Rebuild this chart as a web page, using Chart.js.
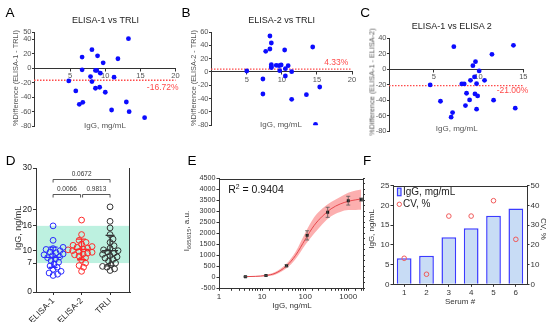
<!DOCTYPE html>
<html>
<head>
<meta charset="utf-8">
<title>IgG assay comparison</title>
<script src="https://cdn.jsdelivr.net/npm/chart.js@4.4.1/dist/chart.umd.min.js"></script>
<style>
  html, body { margin: 0; padding: 0; background: #fff; }
  #page { position: relative; width: 550px; height: 327px; overflow: hidden;
          font-family: "Liberation Sans", Arial, sans-serif; }
  #page canvas { position: absolute; left: 0; top: 0; }
  .txt { position: absolute; white-space: nowrap; line-height: 1; color: #333; z-index: 5; }
  .txt sub { font-size: 70%; vertical-align: -0.3em; line-height: 0; }
  .txt sup { font-size: 65%; vertical-align: 0.5em; line-height: 0; }
</style>
</head>
<body>
<div id="page"></div>
<script>
// ---------------------------------------------------------------
// DATA
// ---------------------------------------------------------------
// A: ELISA-1 vs TRLI (IgG mg/mL, % difference)
const aIgG  = [13.3, 8.1, 8.9, 6.7, 11.8, 9.7, 6.7, 8.6, 8.8, 9.3, 7.9, 11.25,
               4.8, 8.1, 9.2, 8.6, 5.8, 10.0, 13.0, 6.8, 6.3, 10.9, 13.4, 15.6];
const aDiff = [40.7, 25.5, 17.1, 15.3, 13.0, 7.4, -2.3, -3.2, -3.2, -6.9, -11.6, -12.5,
               -17.6, -18.5, -26.4, -27.8, -31.5, -33.3, -46.8, -47.2, -50.0, -57.9, -60.2, -68.5];
const aMean = -16.72;
const aYTicks = [50, 40, 20, 0, -20, -40, -60, -80];

// B: ELISA-2 vs TRLI
const bIgG  = [8.3, 8.5, 8.3, 7.7, 10.4, 14.4, 8.5, 8.5, 8.5, 9.2, 9.6, 9.9,
               10.9, 10.5, 9.7, 5.0, 11.4, 10.5, 7.3, 15.4, 7.3, 13.5, 11.4, 14.8];
const bDiff = [54, 43.5, 34.5, 31, 33, 37.5, 11, 8, 6.5, 10, 9.5, 10.5,
               9.5, 5, 2, 1.5, 0.5, -6, -10.5, -22.5, -33, -34, -41, -78.5];
const bMean = 4.33;
const bYTicks = [60, 40, 20, 0, -20, -40, -60, -80];

// C: ELISA-1 vs ELISA-2
const cIgG  = [7.24, 13.9, 11.5, 9.66, 9.37, 10.07, 10.67, 9.1, 9.55, 4.6, 8.13, 8.4,
               9.78, 8.66, 9.6, 9.9, 9.0, 11.68, 5.75, 8.54, 14.1, 9.78, 7.1, 6.94];
const cDiff = [29.2, 30.9, 19.3, 9.9, 4.7, -2.1, -14.2, -14.2, -9.9, -20.2, -18.9, -18.9,
               -18.5, -30.9, -31.8, -34.3, -39.5, -39.9, -41.2, -46.8, -50.2, -51.5, -55.8, -61.8];
const cMean = -21.00;
const cYTicks = [40, 20, 0, -20, -40, -60, -80];

// D: IgG per method (ng/mL)
const dMethods = ["ELISA-1", "ELISA-2", "TRLI"];
const dElisa1 = [16.0, 12.5, 10.8, 10.5, 10.3, 10.0, 9.7, 9.5, 9.2, 9.0, 8.8, 8.5,
                 8.3, 8.0, 7.6, 7.2, 6.8, 6.3, 6.0, 5.5, 5.0, 4.6, 4.3, 4.0];
const dElisa2 = [17.4, 13.9, 12.5, 12.0, 11.6, 11.3, 11.0, 10.8, 10.6, 10.4, 10.2, 10.0,
                 9.8, 9.6, 9.4, 9.2, 9.0, 8.7, 8.3, 7.8, 7.0, 6.4, 6.0, 5.0];
const dTrli   = [20.6, 17.1, 15.5, 13.9, 12.8, 12.0, 11.2, 10.6, 10.2, 10.0, 9.7, 9.4,
                 9.1, 8.8, 8.5, 8.2, 7.9, 7.5, 7.0, 6.6, 6.2, 6.0, 5.6, 5.2];
const dMean = [8.4, 10.3, 10.0];
const dSd   = [2.45, 2.5, 3.7];
const dRange = [7, 16];
const dPValues = ["0.0672", "0.0066", "0.9813"];
const dYTicks = [0, 7, 10, 16, 20, 30];

// E: calibration curve
const eConc   = [4.1, 12.3, 37, 111, 333, 1000, 2000];
const eSignal = [30, 80, 530, 1910, 2960, 3490, 3540];
const eErr    = [20, 25, 50, 210, 230, 200, 70];
const eFitX   = [4, 7, 12, 20, 37, 60, 100, 160, 250, 400, 650, 1000, 1500, 2000];
const eFitY   = [30, 45, 80, 180, 520, 1000, 1720, 2350, 2780, 3120, 3340, 3460, 3530, 3570];
const eBandHi = [45, 65, 110, 240, 630, 1170, 2020, 2720, 3130, 3430, 3660, 3850, 3950, 4000];
const eBandLo = [15, 25, 50, 120, 410, 830, 1470, 1980, 2420, 2780, 2980, 3060, 3070, 3080];
const eR2 = "0.9404";
const eXLabels = [1, 10, 100, 1000];

// F: sera
const fSerum = ["1", "2", "3", "4", "5", "6"];
const fIgG   = [6.6, 7.25, 11.9, 14.2, 17.4, 19.2];
const fCV    = [13.2, 5.1, 34.6, 34.6, 42.4, 22.8];

// ---------------------------------------------------------------
// SETUP
// ---------------------------------------------------------------
const W = 550, H = 327;
const FONT = '"Liberation Sans", Arial, sans-serif';
const page = document.getElementById("page");

Chart.defaults.font.family = FONT;
Chart.defaults.font.size = 8;
Chart.defaults.color = "#444";
Chart.defaults.animation = false;
Chart.defaults.events = [];
Chart.defaults.plugins.legend.display = false;
Chart.defaults.plugins.tooltip.enabled = false;

function newCanvas() {
    const c = document.createElement("canvas");
    c.width = W; c.height = H;
    c.style.width = W + "px"; c.style.height = H + "px";
    page.appendChild(c);
    return c;
}

function addText(html, x, y, size, opts = {}) {
    const d = document.createElement("div");
    d.className = "txt";
    d.innerHTML = html;
    d.style.left = x + "px";
    d.style.top = y + "px";
    d.style.fontSize = size + "px";
    if (opts.color) d.style.color = opts.color;
    d.style.transform = "translate(-50%,-50%)" + (opts.rot ? ` rotate(${opts.rot}deg)` : "");
    page.appendChild(d);
}

// chart area [L, T, R, B] -> layout padding, given axis sizes
function pad(area, wl, wr, hb) {
    const [L, T, R, B] = area;
    return { left: L - wl, top: T, right: W - R - wr, bottom: H - B - hb };
}
const fixW = w => s => { s.width = w; };
const fixH = h => s => { s.height = h; };
const setTicks = vals => s => { s.ticks = vals.map(v => ({ value: v })); };
const tickGrid = len => ({ drawOnChartArea: false, drawTicks: true, tickLength: len, color: "#333" });
const axisBorder = { display: true, color: "#333", width: 1 };
const plain = v => String(v);

function framePlugin(sides) {
    return {
        id: "frame",
        afterDatasetsDraw(chart) {
            const { ctx, chartArea: a } = chart;
            ctx.save();
            ctx.strokeStyle = "#333";
            ctx.lineWidth = 1;
            ctx.beginPath();
            if (sides.includes("top")) { ctx.moveTo(a.left, Math.round(a.top) + 0.5); ctx.lineTo(a.right, Math.round(a.top) + 0.5); }
            if (sides.includes("right")) { ctx.moveTo(Math.round(a.right) - 0.5, a.top); ctx.lineTo(Math.round(a.right) - 0.5, a.bottom); }
            ctx.stroke();
            ctx.restore();
        }
    };
}

// ---------------------------------------------------------------
// A, B, C: difference plots
// ---------------------------------------------------------------
function diffPanel(p) {
    const meanPlugin = {
        id: "meanLine",
        beforeDatasetsDraw(chart) {
            const { ctx, chartArea: a, scales: { y } } = chart;
            const py = y.getPixelForValue(p.mean);
            ctx.save();
            ctx.strokeStyle = "#ff4a4a";
            ctx.lineWidth = 1.3;
            ctx.setLineDash([1.5, 1.5]);
            ctx.beginPath();
            ctx.moveTo(a.left, py);
            ctx.lineTo(a.right, py);
            ctx.stroke();
            ctx.setLineDash([]);
            ctx.fillStyle = "#ff4a4a";
            ctx.font = "8.5px " + FONT;
            ctx.textAlign = "right";
            ctx.textBaseline = "middle";
            ctx.fillText(p.mean.toFixed(2) + "%", a.right + p.dx, py + p.dy);
            ctx.restore();
        }
    };

    new Chart(newCanvas(), {
        type: "scatter",
        data: {
            datasets: [{
                data: p.xs.map((x, i) => ({ x, y: p.ys[i] })),
                backgroundColor: "#0c0cff",
                borderColor: "#0c0cff",
                pointRadius: 2.4,
                pointBorderWidth: 0
            }]
        },
        options: {
            responsive: false,
            devicePixelRatio: 1,
            layout: { padding: pad(p.area, 20, 0, 0) },
            scales: {
                x: {
                    type: "linear",
                    position: { y: 0 },
                    min: p.xMin, max: p.xMax,
                    afterBuildTicks: setTicks(p.xTicks),
                    ticks: { padding: 1, color: "#555", font: { size: 7.5 }, callback: plain },
                    grid: tickGrid(2.5),
                    border: axisBorder
                },
                y: {
                    min: p.yTicks[p.yTicks.length - 1], max: p.yTicks[0],
                    afterFit: fixW(20),
                    afterBuildTicks: setTicks(p.yTicks),
                    ticks: { padding: 0.5, color: "#555", font: { size: 7.5 }, autoSkip: false, callback: plain },
                    grid: tickGrid(2),
                    border: axisBorder
                }
            }
        },
        plugins: [meanPlugin]
    });
}

diffPanel({ xs: aIgG, ys: aDiff, mean: aMean, yTicks: aYTicks, xTicks: [5, 10, 15, 20],
            area: [34, 32, 175.5, 126], xMin: -0.15, xMax: 20, dx: 3, dy: 7 });
diffPanel({ xs: bIgG, ys: bDiff, mean: bMean, yTicks: bYTicks, xTicks: [5, 10, 15, 20],
            area: [211, 32, 352, 125.3], xMin: -0.1, xMax: 20, dx: -3.7, dy: -6 });
diffPanel({ xs: cIgG, ys: cDiff, mean: cMean, yTicks: cYTicks, xTicks: [5, 10, 15],
            area: [389, 38.3, 523.3, 131.3], xMin: 0, xMax: 15, dx: 5, dy: 5 });

// ---------------------------------------------------------------
// D: beeswarm of IgG per method
// ---------------------------------------------------------------
const dColors = ["#2a2aff", "#ff2a2a", "#333333"];

// simple deterministic beeswarm: offsets in category units
function swarm(vals, pxY, pxX, dmin) {
    const order = vals.map((_, i) => i).sort((a, b) => vals[a] - vals[b]);
    const placed = [];
    const off = new Array(vals.length).fill(0);
    order.forEach(i => {
        const py = vals[i] * pxY;
        let chosen = 0;
        for (let k = 0; k < 80; k++) {
            const cand = (k % 2 ? 1 : -1) * Math.ceil(k / 2) * 0.5;
            const hit = placed.some(p => (cand - p.x) ** 2 + (py - p.y) ** 2 < dmin * dmin);
            if (!hit) { chosen = cand; break; }
        }
        placed.push({ x: chosen, y: py });
        off[i] = chosen / pxX;
    });
    return off;
}

const dGroups = [dElisa1, dElisa2, dTrli];
const dDecor = {
    id: "dDecor",
    beforeDraw(chart) {
        const { ctx, chartArea: a, scales: { y } } = chart;
        const y0 = y.getPixelForValue(dRange[0]);
        const y1 = y.getPixelForValue(dRange[1]);
        ctx.save();
        ctx.fillStyle = "#bdf1e0";
        ctx.fillRect(a.left, y1, a.right - a.left, y0 - y1);
        ctx.restore();
    },
    afterDatasetsDraw(chart) {
        const { ctx, scales: { x, y } } = chart;
        ctx.save();
        // mean and SD
        dMean.forEach((m, i) => {
            const cx = x.getPixelForValue(i);
            const pm = y.getPixelForValue(m);
            const ph = y.getPixelForValue(m + dSd[i]);
            const pl = y.getPixelForValue(m - dSd[i]);
            ctx.strokeStyle = dColors[i];
            ctx.lineWidth = 1.3;
            ctx.beginPath();
            ctx.moveTo(cx - 8, pm); ctx.lineTo(cx + 8, pm);
            ctx.moveTo(cx, ph); ctx.lineTo(cx, pl);
            ctx.moveTo(cx - 4.5, ph); ctx.lineTo(cx + 4.5, ph);
            ctx.moveTo(cx - 4.5, pl); ctx.lineTo(cx + 4.5, pl);
            ctx.stroke();
        });
        // significance brackets
        const pairs = [[0, 2, 27.4], [0, 1, 23.7], [1, 2, 23.7]];
        ctx.strokeStyle = "#444";
        ctx.lineWidth = 0.9;
        ctx.fillStyle = "#333";
        ctx.font = "6.5px " + FONT;
        ctx.textAlign = "center";
        ctx.textBaseline = "middle";
        pairs.forEach(([i, j, lvl], k) => {
            const x0 = x.getPixelForValue(i) + (k > 0 && i === 1 ? 1 : 0);
            const x1 = x.getPixelForValue(j) - (k > 0 && j === 1 ? 1 : 0);
            const py = Math.round(y.getPixelForValue(lvl)) + 0.5;
            ctx.beginPath();
            ctx.moveTo(x0, py + 3); ctx.lineTo(x0, py); ctx.lineTo(x1, py); ctx.lineTo(x1, py + 3);
            ctx.stroke();
            ctx.fillText(dPValues[k], (x0 + x1) / 2, py - 5.5);
        });
        ctx.restore();
    }
};

new Chart(newCanvas(), {
    type: "scatter",
    data: {
        datasets: dGroups.map((g, gi) => {
            const off = swarm(g, 4.13, 28.5, 4.4);
            return {
                data: g.map((v, i) => ({ x: gi + off[i], y: v })),
                pointRadius: 2.9,
                borderColor: dColors[gi],
                backgroundColor: "rgba(0,0,0,0)",
                pointBorderWidth: 1
            };
        })
    },
    options: {
        responsive: false,
        devicePixelRatio: 1,
        layout: { padding: pad([36, 168, 130, 292], 20, 0, 30) },
        scales: {
            x: {
                type: "linear",
                min: -0.6, max: 2.7,
                afterFit: fixH(30),
                afterBuildTicks: setTicks([0, 1, 2]),
                ticks: { minRotation: 45, maxRotation: 45, padding: 1, color: "#222",
                         font: { size: 8.5 }, callback: v => dMethods[v] },
                grid: tickGrid(3),
                border: axisBorder
            },
            y: {
                min: 0, max: 30,
                afterFit: fixW(20),
                afterBuildTicks: setTicks(dYTicks),
                ticks: { padding: 1, color: "#222", font: { size: 8.5 }, autoSkip: false, callback: plain },
                grid: tickGrid(3),
                border: axisBorder
            }
        }
    },
    plugins: [dDecor, framePlugin(["right"])]
});

// ---------------------------------------------------------------
// E: calibration curve
// ---------------------------------------------------------------
const eErrBars = {
    id: "eErr",
    afterDatasetsDraw(chart) {
        const { ctx, scales: { x, y } } = chart;
        ctx.save();
        ctx.strokeStyle = "#555";
        ctx.lineWidth = 0.8;
        ctx.beginPath();
        eConc.forEach((c, i) => {
            const px = x.getPixelForValue(c);
            const hi = y.getPixelForValue(eSignal[i] + eErr[i]);
            const lo = y.getPixelForValue(eSignal[i] - eErr[i]);
            ctx.moveTo(px, hi); ctx.lineTo(px, lo);
            ctx.moveTo(px - 2, hi); ctx.lineTo(px + 2, hi);
            ctx.moveTo(px - 2, lo); ctx.lineTo(px + 2, lo);
        });
        ctx.stroke();
        ctx.restore();
    }
};

new Chart(newCanvas(), {
    type: "scatter",
    data: {
        datasets: [
            {
                data: eConc.map((c, i) => ({ x: c, y: eSignal[i] })),
                pointStyle: "rect",
                pointRadius: 2.1,
                backgroundColor: "#111",
                borderColor: "#111",
                pointBorderWidth: 0
            },
            {
                type: "line",
                data: eFitX.map((c, i) => ({ x: c, y: eFitY[i] })),
                borderColor: "#e5484d",
                borderWidth: 1,
                pointRadius: 0,
                cubicInterpolationMode: "monotone",
                fill: false
            },
            {
                type: "line",
                data: eFitX.map((c, i) => ({ x: c, y: eBandHi[i] })),
                borderWidth: 0,
                borderColor: "rgba(0,0,0,0)",
                pointRadius: 0,
                cubicInterpolationMode: "monotone",
                fill: false
            },
            {
                type: "line",
                data: eFitX.map((c, i) => ({ x: c, y: eBandLo[i] })),
                borderWidth: 0,
                borderColor: "rgba(0,0,0,0)",
                backgroundColor: "rgba(250,110,110,0.55)",
                pointRadius: 0,
                cubicInterpolationMode: "monotone",
                fill: "-1"
            }
        ]
    },
    options: {
        responsive: false,
        devicePixelRatio: 1,
        layout: { padding: pad([219, 178.5, 363, 288.3], 25, 4, 20) },
        scales: {
            x: {
                type: "logarithmic",
                min: 1, max: 2200,
                afterFit: fixH(20),
                ticks: { autoSkip: false, maxRotation: 0, padding: 1, color: "#333", font: { size: 8 },
                         callback: v => (eXLabels.includes(v) ? String(v) : "") },
                grid: tickGrid(2.5),
                border: axisBorder
            },
            y: {
                min: -500, max: 4500,
                afterFit: fixW(25),
                ticks: { stepSize: 500, padding: 1, color: "#333", font: { size: 7.2 },
                         autoSkip: false, callback: plain },
                grid: tickGrid(2.5),
                border: axisBorder
            },
            y2: {
                position: "right",
                min: -500, max: 4500,
                afterFit: fixW(4),
                ticks: { stepSize: 250, display: false, autoSkip: false },
                grid: tickGrid(2),
                border: axisBorder
            }
        }
    },
    plugins: [eErrBars, framePlugin(["top"])]
});

// ---------------------------------------------------------------
// F: IgG and CV per serum
// ---------------------------------------------------------------
const fLegend = {
    id: "fLegend",
    afterDatasetsDraw(chart) {
        const { ctx, chartArea: a } = chart;
        ctx.save();
        ctx.fillStyle = "#c8dcf5";
        ctx.strokeStyle = "#3b3bff";
        ctx.lineWidth = 1.2;
        ctx.fillRect(a.left + 4.5, a.top + 2.5, 3.5, 7.5);
        ctx.strokeRect(a.left + 4.5, a.top + 2.5, 3.5, 7.5);
        ctx.strokeStyle = "#f05a5a";
        ctx.lineWidth = 1;
        ctx.beginPath();
        ctx.arc(a.left + 6.3, a.top + 18.6, 2.2, 0, Math.PI * 2);
        ctx.stroke();
        ctx.fillStyle = "#222";
        ctx.font = "10px " + FONT;
        ctx.textAlign = "left";
        ctx.textBaseline = "middle";
        ctx.fillText("IgG, mg/mL", a.left + 10, a.top + 6.2);
        ctx.fillText("CV, %", a.left + 10, a.top + 18.8);
        ctx.restore();
    }
};

new Chart(newCanvas(), {
    type: "bar",
    data: {
        labels: fSerum,
        datasets: [
            {
                type: "line",
                data: fCV,
                yAxisID: "y2",
                showLine: false,
                pointRadius: 2.3,
                pointBorderColor: "#f05a5a",
                pointBackgroundColor: "rgba(0,0,0,0)",
                pointBorderWidth: 1
            },
            {
                data: fIgG,
                yAxisID: "y",
                backgroundColor: "#c8dcf5",
                borderColor: "#3b3bff",
                borderWidth: 1.5,
                barPercentage: 0.66,
                categoryPercentage: 1
            }
        ]
    },
    options: {
        responsive: false,
        devicePixelRatio: 1,
        layout: { padding: pad([393, 185.7, 527, 284.3], 20, 20, 15) },
        scales: {
            x: {
                afterFit: fixH(15),
                ticks: { padding: 1, color: "#333", font: { size: 8 } },
                grid: Object.assign(tickGrid(2.5), { offset: false }),
                border: axisBorder
            },
            y: {
                min: 0, max: 25,
                afterFit: fixW(20),
                ticks: { stepSize: 5, padding: 1, color: "#333", font: { size: 8 }, autoSkip: false },
                grid: tickGrid(2.5),
                border: axisBorder
            },
            y2: {
                position: "right",
                min: 0, max: 50,
                afterFit: fixW(20),
                ticks: { stepSize: 10, padding: 1, color: "#333", font: { size: 8 }, autoSkip: false },
                grid: tickGrid(2.5),
                border: axisBorder
            }
        }
    },
    plugins: [fLegend, framePlugin(["top"])]
});

// ---------------------------------------------------------------
// TEXT
// ---------------------------------------------------------------
[["A", 10, 13], ["B", 186, 13], ["C", 365, 13],
 ["D", 10.5, 160.5], ["E", 192, 160.5], ["F", 367, 160.5]].forEach(([t, x, y]) =>
    addText(t, x, y, 13.5, { color: "#000" }));

addText("ELISA-1 vs TRLI", 105.5, 20.3, 9, { color: "#222" });
addText("ELISA-2 vs TRLI", 281.7, 20.3, 9, { color: "#222" });
addText("ELISA-1 vs ELISA 2", 451.7, 25.5, 9, { color: "#222" });

addText("%Difference (ELISA-1 - TRLI)", 15.5, 78, 7.3, { rot: -90, color: "#555" });
addText("%Difference (ELISA-2 - TRLI)", 193.5, 78, 7.3, { rot: -90, color: "#555" });
addText("%Difference (ELISA-1 - ELISA-2)", 371.5, 82, 7.3, { rot: -90, color: "#555" });

addText("IgG, mg/mL", 105, 126.3, 8, { color: "#555" });
addText("IgG, mg/mL", 281, 125, 8, { color: "#555" });
addText("IgG, mg/mL", 456.7, 129, 8, { color: "#555" });

addText("IgG, ng/mL", 18, 228, 9, { rot: -90, color: "#333" });

addText("I<sub>665/615</sub>, a.u.", 187, 231, 8, { rot: -90, color: "#333" });
addText("R<sup>2</sup> = " + eR2, 256, 189, 10.5, { color: "#111" });
addText("IgG, ng/mL", 292, 305.7, 8, { color: "#333" });

addText("IgG, ng/mL", 372, 229, 8, { rot: -90, color: "#333" });
addText("CV, %", 543, 229, 8, { rot: 90, color: "#333" });
addText("Serum #", 460, 301.7, 8, { color: "#333" });
</script>
</body>
</html>
